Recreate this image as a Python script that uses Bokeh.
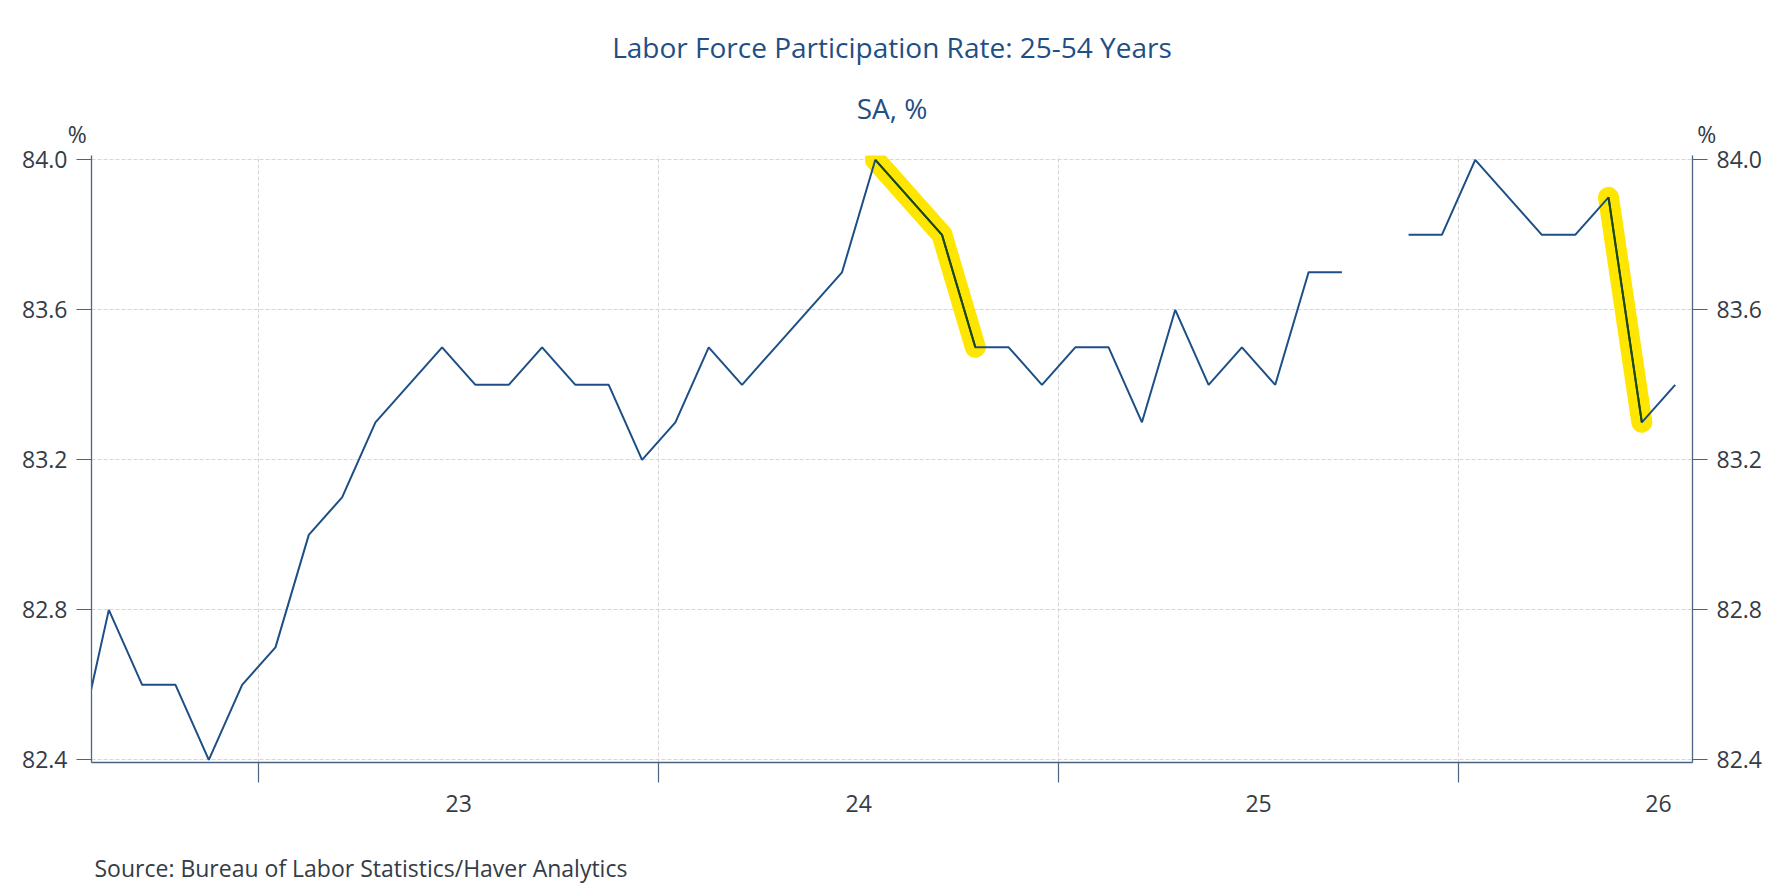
import math
from bokeh.plotting import figure
from bokeh.models import (Range1d, LinearAxis, FixedTicker, Grid, Title,
                          CustomJSTickFormatter, PrintfTickFormatter, ColumnDataSource)
from bokeh.embed import file_html
from bokeh.resources import INLINE

# ---------------- data ----------------
months = [
    "2022-07", "2022-08", "2022-09", "2022-10", "2022-11", "2022-12",
    "2023-01", "2023-02", "2023-03", "2023-04", "2023-05", "2023-06",
    "2023-07", "2023-08", "2023-09", "2023-10", "2023-11", "2023-12",
    "2024-01", "2024-02", "2024-03", "2024-04", "2024-05", "2024-06",
    "2024-07", "2024-08", "2024-09", "2024-10", "2024-11", "2024-12",
    "2025-01", "2025-02", "2025-03", "2025-04", "2025-05", "2025-06",
    "2025-07", "2025-08", "2025-09", "2025-10", "2025-11", "2025-12",
    "2026-01", "2026-02", "2026-03", "2026-04", "2026-05", "2026-06",
    "2026-07",
]
lfpr = [
    82.4, 82.8, 82.6, 82.6, 82.4, 82.6,
    82.7, 83.0, 83.1, 83.3, 83.4, 83.5,
    83.4, 83.4, 83.5, 83.4, 83.4, 83.2,
    83.3, 83.5, 83.4, 83.5, 83.6, 83.7,
    84.0, 83.9, 83.8, 83.5, 83.5, 83.4,
    83.5, 83.5, 83.3, 83.6, 83.4, 83.5,
    83.4, 83.7, 83.7, None, 83.8, 83.8,
    84.0, 83.9, 83.8, 83.8, 83.9, 83.3,
    83.4,
]
year_labels = ["23", "24", "25", "26"]
first_year = 2023
y_ticks = [82.4, 82.8, 83.2, 83.6, 84.0]
highlights = [("2024-07", "2024-10"), ("2026-05", "2026-06")]

title_text = "Labor Force Participation Rate: 25-54 Years"
subtitle_text = "SA, %"
source_text = "Source:  Bureau of Labor Statistics/Haver Analytics"
unit_text = "%"

# ---------------- helpers ----------------
def month_pos(s):
    yr, mo = map(int, s.split("-"))
    return (yr - first_year) * 12 + (mo - 1) + 0.5

xs = [month_pos(m) for m in months]
ys = [float("nan") if v is None else v for v in lfpr]
src = ColumnDataSource(dict(x=xs, y=ys))

year_bounds = [12 * i for i in range(len(year_labels))]
year_centers = [12 * i + 6 for i in range(len(year_labels))]

# ---------------- styles ----------------
FONT = "Open Sans"
LINE_COLOR = "#1d4f86"
AXIS_COLOR = "#4a6482"
TEXT_COLOR = "#343c46"
TITLE_COLOR = "#1f4f85"
GRID_COLOR = "#d6d6d6"
HL_COLOR = "#ffe600"
HL_LINE = "#1d4810"

X0, X1 = -5.02, 43.02
W, H = 1776, 886
p = figure(width=W, height=H, output_backend="svg", toolbar_location=None,
           x_range=Range1d(X0, X1), y_range=Range1d(82.393, 84.0115),
           x_axis_type=None, y_axis_type=None,
           min_border_left=91, min_border_right=84,
           min_border_top=155, min_border_bottom=124)
p.outline_line_color = None
p.background_fill_color = "white"
p.border_fill_color = "white"

# grids
p.add_layout(Grid(dimension=0, ticker=FixedTicker(ticks=year_bounds),
                  grid_line_color=GRID_COLOR, grid_line_dash="4 2", grid_line_width=1))
p.add_layout(Grid(dimension=1, ticker=FixedTicker(ticks=y_ticks),
                  grid_line_color=GRID_COLOR, grid_line_dash="4 2", grid_line_width=1))

# highlights (under the line)
for a, b in highlights:
    i0, i1 = months.index(a), months.index(b)
    p.line(xs[i0:i1 + 1], ys[i0:i1 + 1], line_color=HL_COLOR, line_width=21,
           line_cap="round", line_join="round")

# main series
p.line("x", "y", source=src, line_color=LINE_COLOR, line_width=2)

for a, b in highlights:
    i0, i1 = months.index(a), months.index(b)
    p.line(xs[i0:i1 + 1], ys[i0:i1 + 1], line_color=HL_LINE, line_width=2)

# bottom axis: year boundary ticks (minor) + centred year labels
xaxis = LinearAxis(
    ticker=FixedTicker(ticks=year_centers, minor_ticks=year_bounds),
    formatter=CustomJSTickFormatter(args=dict(pos=year_centers, labs=year_labels),
                                    code="const i = pos.indexOf(tick); return i >= 0 ? labs[i] : '';"),
    axis_line_color=AXIS_COLOR, axis_line_width=1.3,
    major_tick_line_color=None, major_tick_in=0, major_tick_out=0,
    minor_tick_line_color=AXIS_COLOR, minor_tick_line_width=1.2,
    minor_tick_in=0, minor_tick_out=20,
    major_label_standoff=12,
    major_label_text_font=FONT, major_label_text_font_size="23px",
    major_label_text_color=TEXT_COLOR,
    # blank spacer label: pushes the source line down without moving the year labels
    axis_label="\u00a0", axis_label_standoff=18,
    axis_label_text_font=FONT, axis_label_text_font_size="10px",
)
p.add_layout(xaxis, "below")

def y_axis():
    return LinearAxis(
        ticker=FixedTicker(ticks=y_ticks, minor_ticks=[]),
        formatter=PrintfTickFormatter(format="%.1f"),
        axis_line_color=AXIS_COLOR, axis_line_width=1.3,
        major_tick_line_color=AXIS_COLOR, major_tick_line_width=1.2,
        major_tick_in=0, major_tick_out=15,
        minor_tick_line_color=None,
        major_label_standoff=9,
        major_label_text_font=FONT, major_label_text_font_size="23px",
        major_label_text_color=TEXT_COLOR,
    )

p.add_layout(y_axis(), "left")
p.add_layout(y_axis(), "right")

# top: invisible axis carrying the "%" unit markers at both ends,
# with the subtitle as its axis label
NB = "\u00a0" * 5
unit_pos = [X0 + 0.02, X1 - 0.02]
top_axis = LinearAxis(
    ticker=FixedTicker(ticks=unit_pos, minor_ticks=[]),
    formatter=CustomJSTickFormatter(args=dict(pos=unit_pos, u=unit_text, nb=NB),
                                    code="return tick === pos[0] ? u + nb : nb + u;"),
    axis_line_color=None, major_tick_line_color=None, minor_tick_line_color=None,
    major_tick_in=0, major_tick_out=0,
    major_label_standoff=6,
    major_label_text_font=FONT, major_label_text_font_size="23px",
    major_label_text_color=TEXT_COLOR,
    axis_label=subtitle_text, axis_label_standoff=-12,
    axis_label_text_font=FONT, axis_label_text_font_size="28px",
    axis_label_text_font_style="normal", axis_label_text_color=TITLE_COLOR,
)
p.add_layout(top_axis, "above")

p.add_layout(Title(text=title_text, align="center", vertical_align="top", text_font=FONT,
                   text_font_size="28px", text_color=TITLE_COLOR,
                   text_font_style="normal", standoff=36), "above")
p.add_layout(Title(text=source_text, align="left", offset=3, text_font=FONT,
                   text_font_size="23px", text_color=TEXT_COLOR,
                   text_font_style="normal", standoff=0), "below")

open("out.html", "w").write(file_html(p, INLINE))
